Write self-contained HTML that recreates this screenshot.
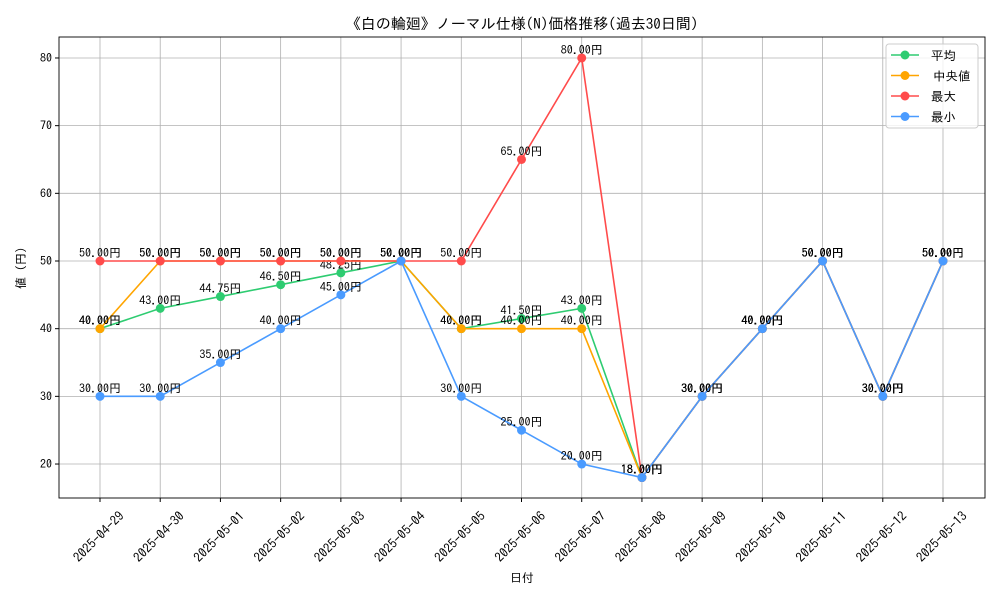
<!DOCTYPE html>
<html><head><meta charset="utf-8"><style>
body{margin:0;background:#fff;}
svg text{font-family:"IPAGothic","Liberation Sans","Noto Sans CJK JP",sans-serif;}
</style></head><body>
<svg id="c" width="1000" height="600" xmlns="http://www.w3.org/2000/svg"></svg>
<script>
const categories=["2025-04-29","2025-04-30","2025-05-01","2025-05-02","2025-05-03","2025-05-04","2025-05-05","2025-05-06","2025-05-07","2025-05-08","2025-05-09","2025-05-10","2025-05-11","2025-05-12","2025-05-13"];
const avgValues=[40,43,44.75,46.5,48.25,50,40,41.5,43,18,30,40,50,30,50];
const medianValues=[40,50,50,50,50,50,40,40,40,18,30,40,50,30,50];
const maxValues=[50,50,50,50,50,50,50,65,80,18,30,40,50,30,50];
const minValues=[30,30,35,40,45,50,30,25,20,18,30,40,50,30,50];
const yTicks=[20,30,40,50,60,70,80];
const seriesNames=["平均","中央値","最大","最小"];
const seriesColors=["#2ecc71","#ffa500","#ff4b4b","#4a9bff"];

const svg=document.getElementById('c');const NS="http://www.w3.org/2000/svg";
const L=59,R=985,T=37,B=498,yMin=14.98,yMax=83.1;
const xs=i=>100+i*(943-100)/(categories.length-1);
const ys=v=>B-(v-yMin)/(yMax-yMin)*(B-T);
function el(t,a,p){const e=document.createElementNS(NS,t);for(const k in a)e.setAttribute(k,a[k]);(p||svg).appendChild(e);return e;}
function tx(s,a,p){const e=el('text',a,p);e.textContent=s;return e;}
const title=tx("《白の輪廻》ノーマル仕様(N)価格推移(過去30日間)",{x:522,y:29,'text-anchor':'middle','font-size':15});

const grid=el('g',{});
categories.forEach((c,i)=>{el('line',{x1:xs(i),x2:xs(i),y1:T,y2:B,stroke:'#b0b0b0','stroke-width':0.8},grid);});
yTicks.forEach(v=>{el('line',{x1:L,x2:R,y1:ys(v),y2:ys(v),stroke:'#b0b0b0','stroke-width':0.8},grid);});
const xa=el('g',{});
categories.forEach((c,i)=>{const x=xs(i);el('line',{x1:x,x2:x,y1:B,y2:B+4,stroke:'#000'},xa);
const cx=x-1,cy=B+39;
tx(c,{x:cx,y:cy+4,'text-anchor':'middle','font-size':13,transform:`rotate(-45 ${cx} ${cy})`},xa);});
const ya=el('g',{});
yTicks.forEach(v=>{const y=ys(v);el('line',{x1:L-4,x2:L,y1:y,y2:y,stroke:'#000'},ya);tx(String(v),{x:L-7,y:y+4,'text-anchor':'end','font-size':12},ya);});
const xt=tx("日付",{x:522,y:582,'text-anchor':'middle','font-size':12});
const yt=tx("値 (円)",{x:25,y:268,'text-anchor':'middle','font-size':12,transform:'rotate(-90 25 268)'});
const all=[avgValues,medianValues,maxValues,minValues];
const keys=["avg","median","max","min"];
all.forEach((vals,si)=>{const g=el('g',{});
el('polyline',{points:vals.map((v,i)=>xs(i)+','+ys(v)).join(' '),fill:'none',stroke:seriesColors[si],'stroke-width':1.6},g);
vals.forEach((v,i)=>{const c=el('circle',{cx:xs(i),cy:ys(v),r:4.5,fill:seriesColors[si]},g);
const t=tx(v.toFixed(2)+"円",{x:xs(i),y:ys(v)-4,'text-anchor':'middle','font-size':12},g);});});
el('rect',{x:L,y:T,width:R-L,height:B-T,fill:'none',stroke:'#000','stroke-width':0.9});
const lg=el('g',{});
el('rect',{x:886,y:44,width:92,height:84,rx:3,fill:'#fff','fill-opacity':0.8,stroke:'#ccc'},lg);
seriesNames.forEach((n,i)=>{const y=55+i*20.5;const e=el('g',{},lg);
el('line',{x1:891,x2:919,y1:y,y2:y,stroke:seriesColors[i],'stroke-width':1.6},e);el('circle',{cx:905,cy:y,r:4.5,fill:seriesColors[i]},e);
tx(n,{x:i==1?933:931,y:y+5,'font-size':12.5},e);});
</script>
</body></html>
